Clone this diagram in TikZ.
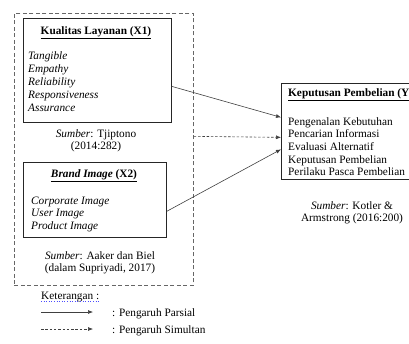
\documentclass[tikz,border=0pt]{standalone}
\usepackage{fontspec}
\setmainfont{Liberation Serif}
\usetikzlibrary{arrows.meta}
\tikzset{
  box/.style={draw=black!85, line width=0.7pt, anchor=north west, inner sep=0pt},
  outerbox/.style={draw=black!60, line width=0.7pt, dash pattern=on 4pt off 2.5pt, anchor=north west, inner sep=0pt},
  txt/.style={anchor=base west, inner sep=0pt, font=\fontsize{11.3}{12.7}\selectfont},
  ctxt/.style={anchor=base, inner sep=0pt, font=\fontsize{11.3}{12.7}\selectfont, align=center},
  arr/.style={draw=black!75, line width=0.6pt, -{Latex[length=5pt,width=4pt]}},
  darr/.style={arr, dash pattern=on 2.5pt off 1.8pt},
}
\begin{document}
\begin{tikzpicture}[x=1pt,y=-1pt]
\useasboundingbox (0,0) rectangle (409,343);
\clip (0,0) rectangle (409,343);
% outer dashed group
\node[outerbox, minimum width=179pt, minimum height=272pt] (grp) at (14,13) {};
% X1
\node[box, minimum width=148pt, minimum height=104pt] (x1) at (23,18) {};
\node[ctxt] (x1t) at (96,34) {\textbf{\underline{Kualitas Layanan (X1)}}};
\node[txt] (x1a) at (28,59) {\itshape Tangible};
\node[txt] (x1b) at (28,72) {\itshape Empathy};
\node[txt] (x1c) at (28,85) {\itshape Reliability};
\node[txt] (x1d) at (28,98) {\itshape Responsiveness};
\node[txt] (x1e) at (28,111) {\itshape Assurance};
\node[ctxt] (s1a) at (96,137) {\textit{Sumber}: Tjiptono};
\node[ctxt] (s1b) at (96,149) {(2014:282)};
% X2
\node[box, minimum width=143pt, minimum height=75pt] (x2) at (23,162) {};
\node[ctxt] (x2t) at (94,177) {\textbf{\underline{\textit{Brand Image} (X2)}}};
\node[txt] (x2a) at (31,204) {\itshape Corporate Image};
\node[txt] (x2b) at (31,216) {\itshape User Image};
\node[txt] (x2c) at (31,229) {\itshape Product Image};
\node[ctxt] (s2a) at (100,259) {\textit{Sumber}: Aaker dan Biel};
\node[ctxt] (s2b) at (100,271) {(dalam Supriyadi, 2017)};
% Y
\node[box, minimum width=160pt, minimum height=96pt] (y) at (281,83) {};
\node[txt] (yt) at (288,96) {\textbf{\underline{Keputusan Pembelian (Y)}}};
\node[txt] (ya) at (288,125) {Pengenalan Kebutuhan};
\node[txt] (yb) at (288,137) {Pencarian Informasi};
\node[txt] (yc) at (288,150) {Evaluasi Alternatif};
\node[txt] (yd) at (288,163) {Keputusan Pembelian};
\node[txt] (ye) at (288,175) {Perilaku Pasca Pembelian};
\node[ctxt] (s3a) at (352,209) {\textit{Sumber}: Kotler \&};
\node[ctxt] (s3b) at (352,221) {Armstrong (2016:200)};
% connectors
\draw[arr] ([yshift=-16pt]x1.east) -- ([yshift=14pt]y.west);
\draw[darr] ([yshift=13pt]grp.east) -- ([yshift=-6pt]y.west);
\draw[arr] ([yshift=-11.5pt]x2.east) -- ([yshift=-18pt]y.west);
% legend
\node[txt] (ket) at (41,299) {Keterangan :};
\draw[blue!70, line width=0.6pt, dotted] ([yshift=-2.5pt]ket.base west) -- ([yshift=-2.5pt]ket.base east);
\coordinate (l1a) at (41,312);
\coordinate (l1b) at (93,312);
\coordinate (l2a) at (41,329);
\coordinate (l2b) at (93,329);
\draw[arr] (l1a) -- (l1b);
\draw[darr] (l2a) -- (l2b);
\node[txt] (lt1) at (112,316) {: Pengaruh Parsial};
\node[txt] (lt2) at (112,333) {: Pengaruh Simultan};
\end{tikzpicture}
\end{document}
